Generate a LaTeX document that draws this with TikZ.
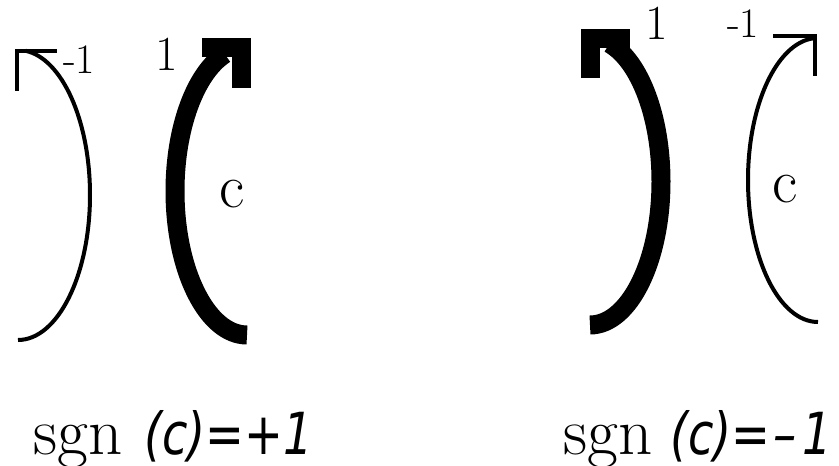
\documentclass[tikz,border=0pt]{standalone}
\usepackage{fontspec}
\usepackage{tikz}
\usetikzlibrary{positioning}
\newfontfamily\sgnfont{DejaVu Sans}[FakeStretch=0.8]
\tikzset{
    thinarc/.style={line width=4pt, line cap=butt},
    thickarc/.style={line width=19pt, line cap=butt},
    thintip/.style={line width=4.5pt, line cap=butt, line join=miter},
    thicktip/.style={line width=19pt, line cap=butt, line join=miter},
    smalllab/.style={inner sep=0pt, font=\fontsize{42}{46}\selectfont},
    biglab/.style={inner sep=0pt, font=\fontsize{49}{52}\selectfont},
    clab/.style={inner sep=0pt, font=\fontsize{62}{66}\selectfont},
    sgnlab/.style={inner sep=0pt, anchor=base west, font=\fontsize{67}{70}\selectfont},
}
\newcommand{\sgnpart}[1]{{\sgnfont\itshape\fontsize{58}{62}\selectfont #1}}

\begin{document}
\begin{tikzpicture}[x=1pt, y=-1pt]
    \useasboundingbox (0,0) rectangle (839,466);

    % Left pair: thin ")" and thick "("
    \draw[thinarc] (18,340) arc[start angle=90, end angle=-84, x radius=72, y radius=145];
    \draw[thintip] (57,51) -- (17,51) -- (17,91);
    \draw[thickarc] (247,335) arc[start angle=90, end angle=252, x radius=72, y radius=144];
    \draw[thicktip] (202,47.5) -- (241.5,47.5) -- (241.5,88);

    \node[smalllab] (lm1) at (79,60) {-1};
    \node[biglab] (lp1) at (167,54) {1};
    \node[clab] (lc) at (232,194) {c};

    % Right pair: thick ")" and thin "("
    \draw[thickarc] (590,325) arc[start angle=90, end angle=-74, x radius=71, y radius=143.5];
    \draw[thicktip] (630,38) -- (590,38) -- (590,78);
    \draw[thinarc] (818,322) arc[start angle=90, end angle=266, x radius=70, y radius=142];
    \draw[thintip] (773,36) -- (815,36) -- (815,76);

    \node[biglab] (rp1) at (657,23) {1};
    \node[smalllab] (rm1) at (743,24) {-1};
    \node[clab] (rc) at (785,189) {c};

    % Signs
    \node[sgnlab] (lsgn) at (33,454) {sgn\kern22pt\sgnpart{(c)=+1}};
    \node[sgnlab] (rsgn) at (563,454) {sgn\kern18pt\sgnpart{(c)=\kern3pt–\kern5pt1}};

\end{tikzpicture}
\end{document}
